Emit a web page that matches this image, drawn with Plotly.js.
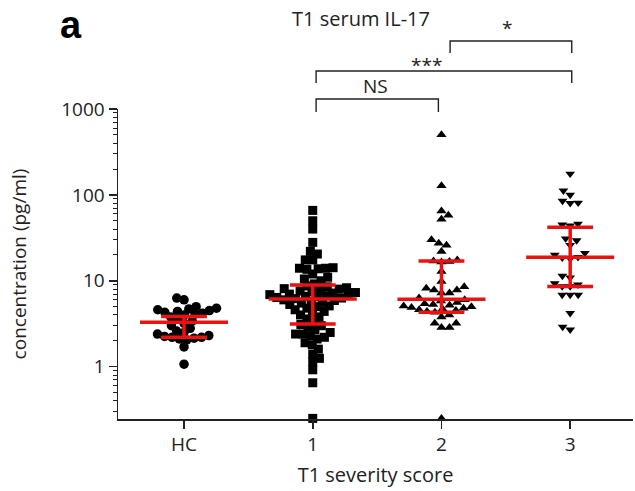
<!DOCTYPE html>
<html>
<head>
<meta charset="utf-8">
<script src="https://cdn.plot.ly/plotly-3.0.1.min.js"></script>
<style>
  html, body { margin: 0; padding: 0; background: #fff; }
  #chart { width: 635px; height: 491px; }
</style>
</head>
<body>
<div id="chart"></div>
<script>
// Serum IL-17 at T1 (pg/ml), one array per group
const groupLabels = ['HC', '1', '2', '3'];

const hcValues = [6.3, 6.0, 5.0, 4.8, 4.7, 4.6, 4.5, 4.4, 4.3, 4.2, 4.1, 4.0, 3.8, 3.6, 3.4,
  3.2, 3.0, 2.8, 2.6, 2.5, 2.4, 2.3, 2.25, 2.2, 2.2, 2.15, 2.1, 2.05, 1.7, 1.07];

const score1Values = [66, 50, 40, 28, 22, 20.5, 17.5, 17.5, 14.2, 14, 14, 13.8, 13.6, 12, 11, 10.5, 10, 9.2,
  8.7, 8.5, 8.3, 8.1, 8.0, 7.8, 7.6, 7.5, 7.3, 7.2, 7.0, 6.9, 6.8, 6.7, 6.6, 6.5, 6.4, 6.3,
  6.2, 6.0, 5.9, 5.8, 5.6, 5.5, 5.3, 5.1, 5.0, 4.8, 4.6, 4.4, 4.2, 4.0, 3.8, 3.6, 3.3, 3.1,
  3.0, 2.9, 2.7, 2.5, 2.4, 2.4, 2.3, 2.2, 2.1, 1.9, 1.8, 1.6, 1.4, 1.25, 1.14, 0.92, 0.65, 0.25];

const score2Values = [500, 128, 65, 58, 52, 30, 27.4, 26, 22, 17.5, 17, 16.8, 16.5, 12.8, 9.8, 8.5, 8.2, 7.8, 7.8, 7.2, 7.2, 6.3,
  6.0, 5.8, 5.6, 5.4, 5.3, 5.2, 5.1, 5.0, 4.9, 4.8, 4.7, 4.6, 4.5, 4.4, 4.3, 4.0, 3.8, 3.2, 3.2, 2.85, 2.85, 0.25];

const score3Values = [176, 112, 100, 85, 81, 80, 46, 44, 45, 31, 29.5, 26, 21, 20, 18.8, 18.5, 18,
  11.4, 10.9, 9.3, 9.0, 8.6, 8.6, 6.85, 6.85, 6.85, 4.2, 2.9, 2.7];

// median with interquartile range per group
const medianValues = [3.29, 6.14, 6.09, 18.8];
const q1Values = [2.2, 3.14, 4.3, 8.6];
const q3Values = [3.83, 8.94, 17.0, 42];

const yTickValues = [1, 10, 100, 1000];
const yTickLabels = ['1', '10', '100', '1000'];

// pairwise comparisons drawn as brackets above the plot
const comparisonLabels = ['NS', '***', '*'];

// ---- geometry ----
const W = 635, H = 491;
const M = { l: 118, r: 2, t: 109, b: 72 };
const xRange = [-0.513, 3.488];
const yRange = [-0.609, 3];
const plotW = W - M.l - M.r, plotH = H - M.t - M.b;
const pxPerX = plotW / (xRange[1] - xRange[0]);
const pxPerDecade = plotH / (yRange[1] - yRange[0]);

// beeswarm: place each point at the smallest horizontal offset that avoids overlap
function swarmOffsets(values, d) {
  const pts = values.map(v => ({ y: Math.log10(v) * pxPerDecade, x: 0 }));
  const order = pts.map((p, i) => i).sort((a, b) => pts[a].y - pts[b].y);
  const placed = [];
  order.forEach((idx, k) => {
    const p = pts[idx];
    const blocks = [];
    placed.forEach(q => {
      const dy = Math.abs(q.y - p.y);
      if (dy < d) {
        const w = Math.sqrt(d * d - dy * dy);
        blocks.push([q.x - w, q.x + w]);
      }
    });
    const cands = [0];
    blocks.forEach(b => cands.push(b[0], b[1]));
    const free = c => blocks.every(b => c <= b[0] + 1e-6 || c >= b[1] - 1e-6);
    let best = null;
    cands.filter(free).forEach(c => {
      if (best === null) { best = c; return; }
      const dc = Math.abs(c), db = Math.abs(best);
      if (dc < db - 1e-6) best = c;
      else if (Math.abs(dc - db) <= 1e-6 && ((k % 2 === 0) ? c > best : c < best)) best = c;
    });
    p.x = best;
    placed.push(p);
  });
  return pts.map(p => p.x / pxPerX);
}

const groups = [
  { values: hcValues, symbol: 'circle', size: 9.5, gap: 7.5 },
  { values: score1Values, symbol: 'square', size: 9, gap: 7.5 },
  { values: score2Values, symbol: 'triangle-up', size: 9, gap: 8 },
  { values: score3Values, symbol: 'triangle-down', size: 8.5, gap: 8 }
];

const traces = groups.map((g, i) => {
  const offs = swarmOffsets(g.values, g.gap);
  return {
    type: 'scatter', mode: 'markers',
    x: offs.map(o => i + o), y: g.values,
    marker: { symbol: g.symbol, size: g.size, color: '#000', line: { width: 0 } },
    cliponaxis: false, hoverinfo: 'y'
  };
});

// red median / IQR bars
const MED_HALF = 0.342, IQR_HALF = 0.178;
const rx = [], ry = [];
groupLabels.forEach((lab, i) => {
  rx.push(i - MED_HALF, i + MED_HALF, null); ry.push(medianValues[i], medianValues[i], null);
  rx.push(i - IQR_HALF, i + IQR_HALF, null); ry.push(q1Values[i], q1Values[i], null);
  rx.push(i - IQR_HALF, i + IQR_HALF, null); ry.push(q3Values[i], q3Values[i], null);
  rx.push(i, i, null); ry.push(q1Values[i], q3Values[i], null);
});
traces.push({
  type: 'scatter', mode: 'lines', x: rx, y: ry,
  line: { color: '#ee1111', width: 3.5 }, hoverinfo: 'skip', cliponaxis: false
});

// minor log ticks 2..9 in every decade
const minorTicks = [];
for (let e = -1; e <= 2; e++) {
  for (let d = 2; d <= 9; d++) {
    const v = d * Math.pow(10, e);
    if (Math.log10(v) >= yRange[0] && Math.log10(v) <= yRange[1]) minorTicks.push(v);
  }
}

const py = p => (H - M.b - p) / plotH; // pixel row -> paper y

// brackets: [x left, x right, top row px, foot row px], label centre [x, px]
const brackets = [
  { ends: [1.026, 1.976], top: 99, foot: 112, text: [1.484, 86] },
  { ends: [1.026, 3.012], top: 71, foot: 83, text: [1.886, 64.5] },
  { ends: [2.067, 3.012], top: 41, foot: 53, text: [2.507, 28.5] }
];

const shapes = brackets.map(b => ({
  type: 'path', xref: 'x', yref: 'paper',
  path: `M ${b.ends[0]},${py(b.foot)} L ${b.ends[0]},${py(b.top)} L ${b.ends[1]},${py(b.top)} L ${b.ends[1]},${py(b.foot)}`,
  line: { color: '#222', width: 1.4 }
}));

const annotations = brackets.map((b, i) => ({
  xref: 'x', yref: 'paper', x: b.text[0], y: py(b.text[1]),
  xanchor: 'center', yanchor: 'middle', showarrow: false,
  text: comparisonLabels[i], font: { size: 19, color: '#222' }
}));
annotations.push({
  xref: 'paper', yref: 'paper', x: (71 - M.l) / plotW, y: py(24.5),
  xanchor: 'center', yanchor: 'middle', showarrow: false,
  text: '<b>a</b>', font: { family: 'Liberation Sans, Arial, sans-serif', size: 38, color: '#000' }
});

const layout = {
  width: W, height: H, margin: M,
  paper_bgcolor: '#fff', plot_bgcolor: '#fff', showlegend: false,
  font: { family: 'Open Sans, sans-serif', size: 19, color: '#222' },
  title: {
    text: 'T1 serum IL-17', font: { size: 20, color: '#222' },
    xref: 'container', x: 361 / W, xanchor: 'center',
    yref: 'container', y: 1 - 19 / H, yanchor: 'middle'
  },
  xaxis: {
    range: xRange, tickmode: 'array', tickvals: [0, 1, 2, 3], ticktext: groupLabels,
    ticks: 'outside', ticklen: 8, tickwidth: 1.5, tickcolor: '#222',
    showline: true, linecolor: '#222', linewidth: 1.5,
    showgrid: false, zeroline: false, tickfont: { size: 19, color: '#222' },
    title: { text: 'T1 severity score', font: { size: 20, color: '#222' }, standoff: 11 }
  },
  yaxis: {
    type: 'log', range: yRange, tickmode: 'array', tickvals: yTickValues, ticktext: yTickLabels,
    ticks: 'outside', ticklen: 8, tickwidth: 1.5, tickcolor: '#222',
    showline: true, linecolor: '#222', linewidth: 1.5,
    showgrid: false, zeroline: false, tickfont: { size: 19, color: '#222' },
    minor: { tickmode: 'array', tickvals: minorTicks, ticks: 'outside', ticklen: 4, tickwidth: 1, tickcolor: '#222', showgrid: false },
    title: { text: 'concentration (pg/ml)', font: { size: 19, color: '#222' }, standoff: 29 }
  },
  shapes: shapes,
  annotations: annotations
};

Plotly.newPlot('chart', traces, layout, { displayModeBar: false, staticPlot: true });
</script>
</body>
</html>
